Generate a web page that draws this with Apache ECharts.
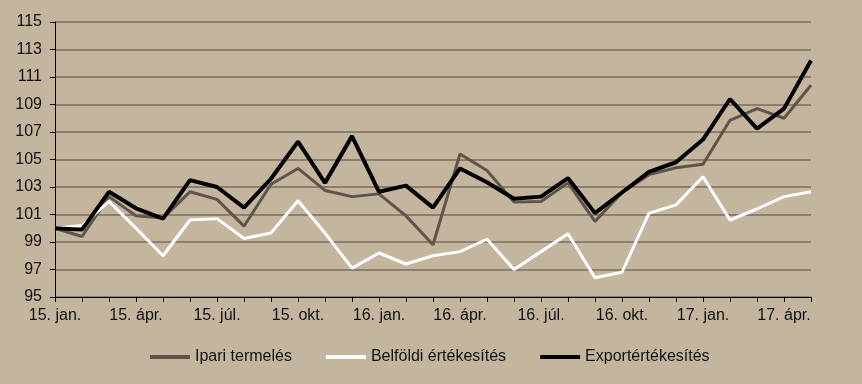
<!DOCTYPE html>
<html><head><meta charset="utf-8">
<script src="https://cdn.jsdelivr.net/npm/echarts@6/dist/echarts.min.js"></script>
<style>html,body{margin:0;padding:0;background:#C4B59F;}#c{width:862px;height:384px;}</style>
</head><body><div id="c"></div>
<script>
const months = ['jan.','febr.','márc.','ápr.','máj.','jún.','júl.','aug.','szept.','okt.','nov.','dec.'];
const categories = [];
for (let y = 15; y <= 17; y++) for (let m = 0; m < 12; m++) { if (y === 17 && m > 4) break; categories.push(y + '. ' + months[m]); }
const ipari = [100, 99.4, 102.3, 100.9, 100.75, 102.65, 102.1, 100.15, 103.2, 104.35, 102.75, 102.3, 102.5, 100.9, 98.8, 105.4, 104.2, 101.9, 101.95, 103.3, 100.5, 102.6, 103.9, 104.4, 104.65, 107.85, 108.7, 108.0, 110.4];
const belfoldi = [100, 100.2, 101.95, 100.0, 98.0, 100.6, 100.7, 99.25, 99.65, 102.0, 99.65, 97.1, 98.2, 97.4, 98.0, 98.3, 99.2, 97.0, 98.3, 99.6, 96.4, 96.8, 101.1, 101.7, 103.75, 100.6, 101.4, 102.3, 102.65];
const export_ = [100, 99.9, 102.65, 101.45, 100.7, 103.5, 103.0, 101.5, 103.6, 106.3, 103.3, 106.7, 102.65, 103.1, 101.5, 104.35, 103.35, 102.15, 102.3, 103.65, 101.1, 102.6, 104.1, 104.8, 106.45, 109.4, 107.25, 108.7, 112.2];
const seriesNames = ['Ipari termelés', 'Belföldi értékesítés', 'Exportértékesítés'];
const yMin = 95, yMax = 115, yStep = 2;

const chart = echarts.init(document.getElementById('c'), null, {renderer: 'canvas'});
const font = 'Liberation Sans, Arial, sans-serif';
chart.setOption({
  backgroundColor: '#C4B59F',
  animation: false,
  grid: {left: 55, right: 51, top: 22, bottom: 87},
  legend: {
    left: 145, top: 344,
    itemWidth: 40, itemHeight: 4, itemGap: 34,
    icon: 'rect',
    textStyle: {fontFamily: font, fontSize: 16, color: '#111'},
    data: seriesNames
  },
  xAxis: {
    type: 'category', data: categories, boundaryGap: false,
    axisLine: {lineStyle: {color: '#000', width: 1}},
    axisTick: {show: true, interval: 0, length: 5, lineStyle: {color: '#000'}},
    axisLabel: {interval: 2, margin: 11, fontFamily: font, fontSize: 16, color: '#111'},
    splitLine: {show: false}
  },
  yAxis: {
    type: 'value', min: yMin, max: yMax, interval: yStep,
    axisLine: {show: true, lineStyle: {color: '#000', width: 1}},
    axisTick: {show: true, length: 5, lineStyle: {color: '#000'}},
    axisLabel: {margin: 13, fontFamily: font, fontSize: 16, color: '#111'},
    splitLine: {show: true, lineStyle: {color: '#7B6E5E', width: 1.5}}
  },
  series: [
    {name: seriesNames[0], type: 'line', data: ipari, showSymbol: false, symbol: 'none',
     lineStyle: {color: '#5E544A', width: 3}, itemStyle: {color: '#5E544A'}},
    {name: seriesNames[1], type: 'line', data: belfoldi, showSymbol: false, symbol: 'none',
     lineStyle: {color: '#FFFFFF', width: 3}, itemStyle: {color: '#FFFFFF'}},
    {name: seriesNames[2], type: 'line', data: export_, showSymbol: false, symbol: 'none',
     lineStyle: {color: '#000000', width: 4}, itemStyle: {color: '#000000'}}
  ]
});
</script></body></html>
